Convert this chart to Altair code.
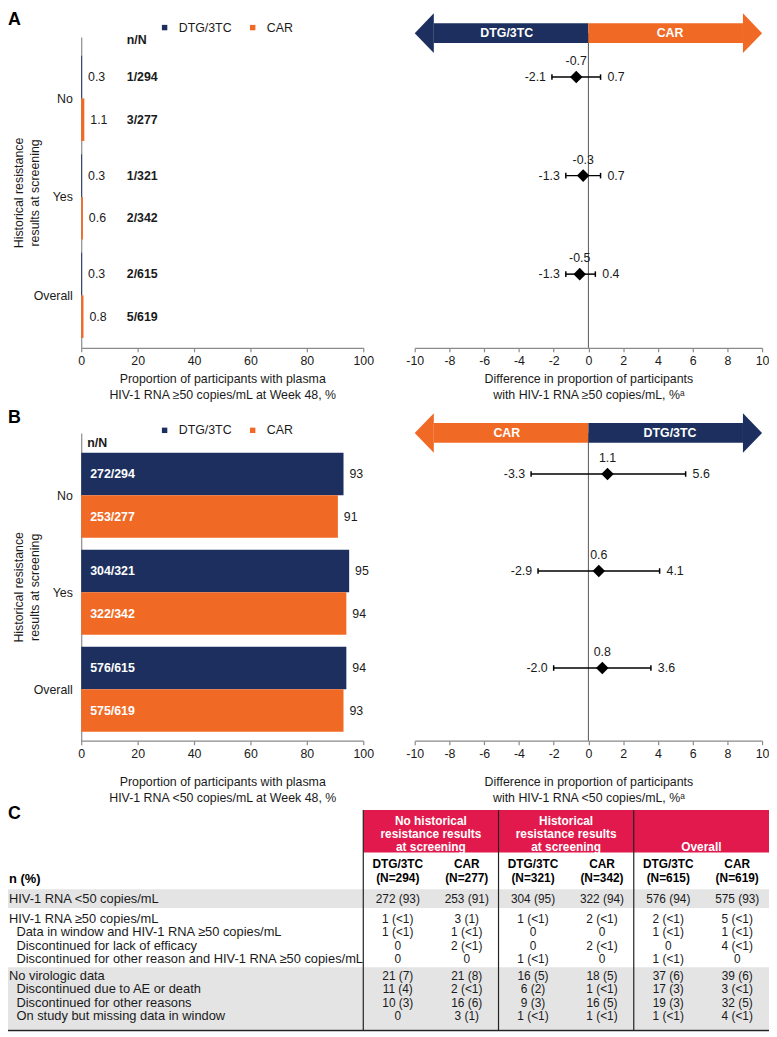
import altair as alt
import pandas as pd

# ----------------------------- data -----------------------------
groups = ["No", "Yes", "Overall"]
arms = ["DTG/3TC", "CAR"]

# Panel A: HIV-1 RNA >=50 copies/mL
a_pct_dtg = [0.3, 0.3, 0.3]
a_pct_car = [1.1, 0.6, 0.8]
a_nn_dtg = ["1/294", "1/321", "2/615"]
a_nn_car = ["3/277", "2/342", "5/619"]
a_diff = [-0.7, -0.3, -0.5]
a_lo = [-2.1, -1.3, -1.3]
a_hi = [0.7, 0.7, 0.4]
a_arrow = ["DTG/3TC", "CAR"]  # left side, right side

# Panel B: HIV-1 RNA <50 copies/mL
b_pct_dtg = [93, 95, 94]
b_pct_car = [91, 94, 93]
b_nn_dtg = ["272/294", "304/321", "576/615"]
b_nn_car = ["253/277", "322/342", "575/619"]
b_diff = [1.1, 0.6, 0.8]
b_lo = [-3.3, -2.9, -2.0]
b_hi = [5.6, 4.1, 3.6]
b_arrow = ["CAR", "DTG/3TC"]

left_ticks = [0, 20, 40, 60, 80, 100]
right_ticks = [-10, -8, -6, -4, -2, 0, 2, 4, 6, 8, 10]

y_title = ["Historical resistance", "results at screening"]
a_left_title = ["Proportion of participants with plasma", "HIV-1 RNA ≥50 copies/mL at Week 48, %"]
a_right_title = ["Difference in proportion of participants", "with HIV-1 RNA ≥50 copies/mL, %ᵃ"]
b_left_title = ["Proportion of participants with plasma", "HIV-1 RNA <50 copies/mL at Week 48, %"]
b_right_title = ["Difference in proportion of participants", "with HIV-1 RNA <50 copies/mL, %ᵃ"]

# Panel C: table
tbl_group_titles = [["No historical", "resistance results", "at screening"],
                    ["Historical", "resistance results", "at screening"],
                    ["Overall"]]
tbl_col_arm = ["DTG/3TC", "CAR", "DTG/3TC", "CAR", "DTG/3TC", "CAR"]
tbl_col_n = [294, 277, 321, 342, 615, 619]
tbl_row_labels = [
    "HIV-1 RNA <50 copies/mL",
    "HIV-1 RNA ≥50 copies/mL",
    "Data in window and HIV-1 RNA ≥50 copies/mL",
    "Discontinued for lack of efficacy",
    "Discontinued for other reason and HIV-1 RNA ≥50 copies/mL",
    "No virologic data",
    "Discontinued due to AE or death",
    "Discontinued for other reasons",
    "On study but missing data in window",
]
tbl_row_indent = [False, False, True, True, True, False, True, True, True]
tbl_row_block = [0, 1, 1, 1, 1, 2, 2, 2, 2]
tbl_no_dtg = ["272 (93)", "1 (<1)", "1 (<1)", "0", "0", "21 (7)", "11 (4)", "10 (3)", "0"]
tbl_no_car = ["253 (91)", "3 (1)", "1 (<1)", "2 (<1)", "0", "21 (8)", "2 (<1)", "16 (6)", "3 (1)"]
tbl_yes_dtg = ["304 (95)", "1 (<1)", "0", "0", "1 (<1)", "16 (5)", "6 (2)", "9 (3)", "1 (<1)"]
tbl_yes_car = ["322 (94)", "2 (<1)", "0", "2 (<1)", "0", "18 (5)", "1 (<1)", "16 (5)", "1 (<1)"]
tbl_all_dtg = ["576 (94)", "2 (<1)", "1 (<1)", "0", "1 (<1)", "37 (6)", "17 (3)", "19 (3)", "1 (<1)"]
tbl_all_car = ["575 (93)", "5 (<1)", "1 (<1)", "4 (<1)", "0", "39 (6)", "3 (<1)", "32 (5)", "4 (<1)"]
tbl_columns = [tbl_no_dtg, tbl_no_car, tbl_yes_dtg, tbl_yes_car, tbl_all_dtg, tbl_all_car]

# ----------------------------- style / layout -----------------------------
W, H = 769, 1029
FS = 12.5
TFS = 13
HFS = 12      # table group-header font
SFS = 12      # table sub-header font
VFS = 12      # table value font
NAVY = "#1C2F5E"
ORANGE = "#F06A26"
RED = "#E2194C"
SHADE = "#E4E4E4"
AXIS_GREY = "#8A8A8A"
INK = "#1A1A1A"
FONT = "Liberation Sans"


def sc(domain, rng):
    return alt.Scale(domain=domain, range=rng, nice=False, zero=False)


LX_RANGE = [74, 359]
LXS = sc([0, 100], LX_RANGE)
RXS = sc([-10, 10], [411, 762])
LX_EDGE = (0 - LX_RANGE[0]) / ((LX_RANGE[1] - LX_RANGE[0]) / 100)  # left edge of canvas in left-x units

AX = dict(labelFontSize=FS, labelColor=INK, labelPadding=3, labelFlush=False, labelOverlap=False,
          tickSize=4, tickColor=AXIS_GREY, tickWidth=1.2, domainColor=AXIS_GREY, domainWidth=1.2,
          grid=False, titleFontSize=FS, titleFontWeight="normal", titleColor=INK, titleLineHeight=16)

ROW_A = dict(domain=[0, 7.302], range=[24, 338], pad=0.44, step=2.315, arrow_c=-0.093, hdr_y=0.08,
             letter_y=-0.395, legend_y=8, x_off=338 - H, title_pad=6, nn_dx=46, hdr_dx=46,
             nn_color=INK)
ROW_B = dict(domain=[0, 7.233], range=[424, 735], pad=0.465, step=2.28, arrow_c=0.0, hdr_y=0.233,
             letter_y=-0.35, legend_y=415, x_off=735 - H, title_pad=16, nn_dx=9, hdr_dx=6,
             nn_color="white")

arm_scale = alt.Scale(domain=arms, range=[NAVY, ORANGE])


def row_layers(cfg, pct_dtg, pct_car, nn_dtg, nn_car, diff, lo, hi, arrow, left_title, right_title, letter):
    YS = sc(cfg["domain"], cfg["range"])
    tops = [cfg["pad"] + g * cfg["step"] for g in range(len(groups))]
    centers = [t + 1 for t in tops]
    rows = []
    for g, name in enumerate(groups):
        for a, arm in enumerate(arms):
            pct = [pct_dtg, pct_car][a][g]
            nn = [nn_dtg, nn_car][a][g]
            rows.append({"group": name, "arm": arm, "pct": pct, "lab": f"{pct:g}", "nn": nn,
                         "y0": tops[g] + a, "y1": tops[g] + a + 1, "ym": tops[g] + a + 0.5, "zero": 0})
    bars = pd.DataFrame(rows)

    expr = f"'{groups[-1]}'"
    for g in range(len(groups) - 2, -1, -1):
        thr = (centers[g] + centers[g + 1]) / 2
        expr = f"datum.value < {thr:.4f} ? '{groups[g]}' : ({expr})"

    x_axis = alt.Axis(orient="bottom", offset=cfg["x_off"], values=left_ticks, title=left_title,
                      titlePadding=cfg["title_pad"], **AX)
    y_axis = alt.Axis(orient="left", offset=-LX_RANGE[0], values=centers, labelExpr=expr, ticks=False,
                      domainColor=AXIS_GREY, domainWidth=1.2, labelPadding=9, labelFontSize=FS,
                      labelColor=INK, grid=False, title=y_title, titleX=-56, titleFontSize=FS,
                      titleFontWeight="normal", titleColor=INK, titleLineHeight=16)
    legend = alt.Legend(orient="none", legendX=152, legendY=cfg["legend_y"], direction="horizontal",
                        title=None, symbolType="square", symbolSize=30, symbolStrokeWidth=0,
                        labelFontSize=FS, labelColor=INK, columnPadding=15, padding=0, labelOffset=8)
    L = []
    L.append(alt.Chart(bars).mark_rect().encode(
        x=alt.X("zero:Q", scale=LXS, axis=x_axis), x2="pct:Q",
        y=alt.Y("y0:Q", scale=YS, axis=y_axis), y2="y1:Q",
        color=alt.Color("arm:N", scale=arm_scale, legend=legend)))
    L.append(alt.Chart(bars).mark_text(align="left", dx=6, fontSize=FS, color=INK).encode(
        x=alt.X("pct:Q", scale=LXS, axis=None), y=alt.Y("ym:Q", scale=YS, axis=None), text="lab:N"))
    L.append(alt.Chart(bars).mark_text(align="left", dx=cfg["nn_dx"], fontSize=FS, fontWeight="bold",
                                       color=cfg["nn_color"]).encode(
        x=alt.X("zero:Q", scale=LXS, axis=None), y=alt.Y("ym:Q", scale=YS, axis=None), text="nn:N"))
    hdr = pd.DataFrame([{"t": "n/N", "zero": 0, "y": cfg["hdr_y"]}])
    L.append(alt.Chart(hdr).mark_text(align="left", dx=cfg["hdr_dx"], fontSize=FS, fontWeight="bold",
                                      color=INK).encode(
        x=alt.X("zero:Q", scale=LXS, axis=None), y=alt.Y("y:Q", scale=YS, axis=None), text="t:N"))
    let = pd.DataFrame([{"t": letter, "x": LX_EDGE, "y": cfg["letter_y"]}])
    L.append(alt.Chart(let).mark_text(align="left", fontSize=18, fontWeight="bold", color="black").encode(
        x=alt.X("x:Q", scale=LXS, axis=None), y=alt.Y("y:Q", scale=YS, axis=None), text="t:N"))

    # ---- forest side ----
    c = cfg["arrow_c"]
    vline = pd.DataFrame([{"zero": 0, "ya": c, "yb": cfg["domain"][1]}])
    L.append(alt.Chart(vline).mark_rule(color="#555555", strokeWidth=1).encode(
        x=alt.X("zero:Q", scale=RXS, axis=None), y=alt.Y("ya:Q", scale=YS, axis=None), y2="yb:Q"))
    body = pd.DataFrame([{"arm": arrow[0], "x0": -8.9, "x1": 0, "ya": c - 0.233, "yb": c + 0.233},
                         {"arm": arrow[1], "x0": 0, "x1": 8.9, "ya": c - 0.233, "yb": c + 0.233}])
    L.append(alt.Chart(body).mark_rect().encode(
        x=alt.X("x0:Q", scale=RXS, axis=None), x2="x1:Q",
        y=alt.Y("ya:Q", scale=YS, axis=None), y2="yb:Q",
        color=alt.Color("arm:N", scale=arm_scale, legend=None)))
    heads = pd.DataFrame([
        {"side": "L", "arm": arrow[0], "x": -10.0, "ya": c, "yb": c},
        {"side": "L", "arm": arrow[0], "x": -8.9, "ya": c - 0.465, "yb": c + 0.465},
        {"side": "R", "arm": arrow[1], "x": 8.9, "ya": c - 0.465, "yb": c + 0.465},
        {"side": "R", "arm": arrow[1], "x": 10.0, "ya": c, "yb": c},
    ])
    L.append(alt.Chart(heads).mark_area(orient="vertical").encode(
        x=alt.X("x:Q", scale=RXS, axis=None),
        y=alt.Y("ya:Q", scale=YS, axis=None, stack=None), y2="yb:Q",
        detail="side:N",
        color=alt.Color("arm:N", scale=arm_scale, legend=None)))
    atxt = pd.DataFrame([{"t": arrow[0], "x": -4.7, "y": c}, {"t": arrow[1], "x": 4.7, "y": c}])
    L.append(alt.Chart(atxt).mark_text(fontSize=FS, fontWeight="bold", color="white").encode(
        x=alt.X("x:Q", scale=RXS, axis=None), y=alt.Y("y:Q", scale=YS, axis=None), text="t:N"))

    fc = [t + 0.5 for t in tops]
    forest = pd.DataFrame({"group": groups, "diff": diff, "lo": lo, "hi": hi, "yc": fc,
                           "dl": [f"{v:.1f}" for v in diff], "ll": [f"{v:.1f}" for v in lo],
                           "hl": [f"{v:.1f}" for v in hi]})
    caps = pd.DataFrame([{"xv": v, "ya": fc[g] - 0.065, "yb": fc[g] + 0.065}
                         for g in range(len(groups)) for v in (lo[g], hi[g])])
    L.append(alt.Chart(forest).mark_rule(color="black", strokeWidth=1.5).encode(
        x=alt.X("lo:Q", scale=RXS, axis=None), x2="hi:Q", y=alt.Y("yc:Q", scale=YS, axis=None)))
    L.append(alt.Chart(caps).mark_rule(color="black", strokeWidth=1.5).encode(
        x=alt.X("xv:Q", scale=RXS, axis=None), y=alt.Y("ya:Q", scale=YS, axis=None), y2="yb:Q"))
    r_axis = alt.Axis(orient="bottom", offset=cfg["x_off"], values=right_ticks,
                      labelExpr="datum.value < 0 ? '-' + abs(datum.value) : '' + datum.value",
                      title=right_title, titlePadding=cfg["title_pad"], **AX)
    L.append(alt.Chart(forest).mark_point(shape="diamond", filled=True, size=160, color="black", opacity=1).encode(
        x=alt.X("diff:Q", scale=RXS, axis=r_axis), y=alt.Y("yc:Q", scale=YS, axis=None)))
    L.append(alt.Chart(forest).mark_text(dy=-16, fontSize=FS, color=INK).encode(
        x=alt.X("diff:Q", scale=RXS, axis=None), y=alt.Y("yc:Q", scale=YS, axis=None), text="dl:N"))
    L.append(alt.Chart(forest).mark_text(align="right", dx=-6, fontSize=FS, color=INK).encode(
        x=alt.X("lo:Q", scale=RXS, axis=None), y=alt.Y("yc:Q", scale=YS, axis=None), text="ll:N"))
    L.append(alt.Chart(forest).mark_text(align="left", dx=7, fontSize=FS, color=INK).encode(
        x=alt.X("hi:Q", scale=RXS, axis=None), y=alt.Y("yc:Q", scale=YS, axis=None), text="hl:N"))
    return L


# ----------------------------- table -----------------------------
T_LEFT = -2.627
TXS = sc([T_LEFT, 3], [0, W])
TYS = sc([0, 16.52], [805, 1028])
SUB_OFF = [0.255, 0.765]


def table_layers():
    L = []
    block_span = {0: (5.93, 7.33), 2: (11.78, 16.44)}
    shade = pd.DataFrame([{"x0": T_LEFT, "x1": 3, "ya": a, "yb": b} for a, b in block_span.values()])
    L.append(alt.Chart(shade).mark_rect(color=SHADE).encode(
        x=alt.X("x0:Q", scale=TXS, axis=None), x2="x1:Q", y=alt.Y("ya:Q", scale=TYS, axis=None), y2="yb:Q"))
    red = pd.DataFrame([{"x0": 0, "x1": 3, "ya": 0, "yb": 3.185}])
    L.append(alt.Chart(red).mark_rect(color=RED).encode(
        x=alt.X("x0:Q", scale=TXS, axis=None), x2="x1:Q", y=alt.Y("ya:Q", scale=TYS, axis=None), y2="yb:Q"))

    gh = []
    for g, lines in enumerate(tbl_group_titles):
        n = len(lines)
        for i, t in enumerate(lines):
            gh.append({"t": t, "x": g + 0.5, "y": 2.8 - (n - 1 - i) * 0.98})
    L.append(alt.Chart(pd.DataFrame(gh)).mark_text(fontSize=HFS, fontWeight="bold", color="white").encode(
        x=alt.X("x:Q", scale=TXS, axis=None), y=alt.Y("y:Q", scale=TYS, axis=None), text="t:N"))

    sub = []
    for k, (arm, n) in enumerate(zip(tbl_col_arm, tbl_col_n)):
        xc = k // 2 + SUB_OFF[k % 2]
        sub.append({"t": arm, "x": xc, "y": 4.07})
        sub.append({"t": f"(N={n})", "x": xc, "y": 5.11})
    L.append(alt.Chart(pd.DataFrame(sub)).mark_text(fontSize=SFS, fontWeight="bold", color="black").encode(
        x=alt.X("x:Q", scale=TXS, axis=None), y=alt.Y("y:Q", scale=TYS, axis=None), text="t:N"))

    label_x = T_LEFT + 1 / 136.66
    indent = 7.5 / 136.66
    nh = pd.DataFrame([{"t": "n (%)", "x": label_x, "y": 5.15}])
    L.append(alt.Chart(nh).mark_text(align="left", fontSize=TFS, fontWeight="bold", color="black").encode(
        x=alt.X("x:Q", scale=TXS, axis=None), y=alt.Y("y:Q", scale=TYS, axis=None), text="t:N"))

    block_first = {0: 6.67, 1: 8.15, 2: 12.44}
    row_y = []
    seen = {}
    for r, b in enumerate(tbl_row_block):
        i = seen.get(b, 0)
        row_y.append(block_first[b] + i)
        seen[b] = i + 1
    rl = pd.DataFrame({"t": tbl_row_labels,
                       "x": [label_x + (indent if ind else 0) for ind in tbl_row_indent],
                       "y": row_y})
    L.append(alt.Chart(rl).mark_text(align="left", fontSize=TFS, color=INK).encode(
        x=alt.X("x:Q", scale=TXS, axis=None), y=alt.Y("y:Q", scale=TYS, axis=None), text="t:N"))

    cells = []
    for k, col in enumerate(tbl_columns):
        xc = k // 2 + SUB_OFF[k % 2]
        for r, v in enumerate(col):
            cells.append({"t": v, "x": xc, "y": row_y[r]})
    L.append(alt.Chart(pd.DataFrame(cells)).mark_text(fontSize=VFS, color=INK).encode(
        x=alt.X("x:Q", scale=TXS, axis=None), y=alt.Y("y:Q", scale=TYS, axis=None), text="t:N"))

    vr = pd.DataFrame([{"x": g, "ya": 0, "yb": 16.5} for g in range(3)])
    L.append(alt.Chart(vr).mark_rule(color="#222222", strokeWidth=1.2).encode(
        x=alt.X("x:Q", scale=TXS, axis=None), y=alt.Y("ya:Q", scale=TYS, axis=None), y2="yb:Q"))
    br = pd.DataFrame([{"x0": T_LEFT, "x1": 3, "y": 16.5}])
    L.append(alt.Chart(br).mark_rule(color="#222222", strokeWidth=1.5).encode(
        x=alt.X("x0:Q", scale=TXS, axis=None), x2="x1:Q", y=alt.Y("y:Q", scale=TYS, axis=None)))
    let = pd.DataFrame([{"t": "C", "x": T_LEFT, "y": 0.3}])
    L.append(alt.Chart(let).mark_text(align="left", fontSize=18, fontWeight="bold", color="black").encode(
        x=alt.X("x:Q", scale=TXS, axis=None), y=alt.Y("y:Q", scale=TYS, axis=None), text="t:N"))
    return L


layers = []
layers += row_layers(ROW_A, a_pct_dtg, a_pct_car, a_nn_dtg, a_nn_car, a_diff, a_lo, a_hi, a_arrow,
                     a_left_title, a_right_title, "A")
layers += row_layers(ROW_B, b_pct_dtg, b_pct_car, b_nn_dtg, b_nn_car, b_diff, b_lo, b_hi, b_arrow,
                     b_left_title, b_right_title, "B")
layers += table_layers()

chart = (
    alt.layer(*layers)
    .resolve_scale(x="independent", y="independent", color="independent")
    .properties(width=W, height=H, padding=0, autosize=alt.AutoSizeParams(type="none"))
    .configure(font=FONT)
    .configure_view(stroke=None)
)

chart.save("out.html", embed_options={"renderer": "svg", "actions": False})
